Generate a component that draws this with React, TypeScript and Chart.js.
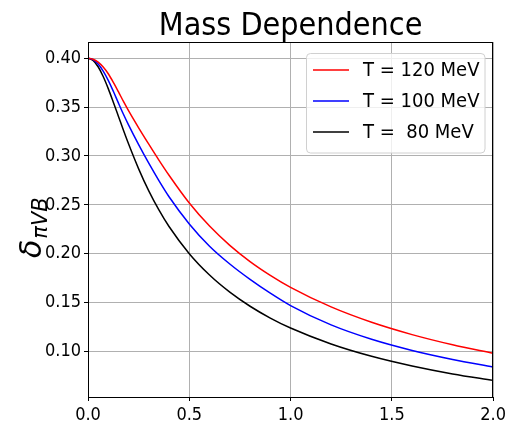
import React, { useEffect, useRef } from "react";
import { Chart, registerables } from "chart.js";

Chart.register(...registerables);

const massValues = [0, 0.025, 0.05, 0.075, 0.1, 0.125, 0.15, 0.175, 0.2, 0.25, 0.3, 0.35, 0.4, 0.5, 0.6, 0.7, 0.8, 0.9, 1.0, 1.2, 1.4, 1.6, 1.8, 2.0];
const t120Values = [0.4, 0.3989, 0.3959, 0.3909, 0.384, 0.3753, 0.3657, 0.3557, 0.3463, 0.3288, 0.3121, 0.2958, 0.2803, 0.2519, 0.2283, 0.2086, 0.192, 0.1779, 0.1656, 0.1456, 0.1299, 0.1173, 0.1069, 0.0982];
const t100Values = [0.4, 0.3984, 0.394, 0.3868, 0.3773, 0.3661, 0.3542, 0.3426, 0.3318, 0.3116, 0.2926, 0.2748, 0.2583, 0.2305, 0.2077, 0.1895, 0.1738, 0.1597, 0.147, 0.1272, 0.1125, 0.1011, 0.0919, 0.0841];
const t80Values = [0.4, 0.3977, 0.3912, 0.3812, 0.3688, 0.3549, 0.3406, 0.3262, 0.3124, 0.2868, 0.2643, 0.2448, 0.2278, 0.2, 0.1782, 0.1607, 0.1463, 0.1342, 0.124, 0.1077, 0.0951, 0.0852, 0.0771, 0.0705];
const seriesLabels = ["T = 120 MeV", "T = 100 MeV", "T =  80 MeV"];
const seriesColors = ["#ff0000", "#0000ff", "#000000"];
const xTicks = [0, 0.5, 1.0, 1.5, 2.0];
const yTicks = [0.1, 0.15, 0.2, 0.25, 0.3, 0.35, 0.4];
const titleText = "Mass Dependence";

const FONT = "'DejaVu Sans Condensed', 'DejaVu Sans', sans-serif";

const decorPlugin = {
  id: "decor",
  afterDraw(chart: any) {
    const ctx = chart.ctx;
    const a = chart.chartArea;
    ctx.save();
    // frame
    ctx.strokeStyle = "#000000";
    ctx.lineWidth = 1;
    ctx.strokeRect(Math.round(a.left) + 0.5, Math.round(a.top) + 0.5, Math.round(a.right - a.left) - 1, Math.round(a.bottom - a.top));
    // title
    ctx.fillStyle = "#000";
    ctx.font = `32px ${FONT}`;
    ctx.textAlign = "center";
    ctx.textBaseline = "alphabetic";
    ctx.fillText(titleText, (a.left + a.right) / 2, 35);
    // y label
    ctx.save();
    ctx.translate(41, 258);
    ctx.rotate(-Math.PI / 2);
    ctx.textAlign = "left";
    ctx.font = `italic 30px 'DejaVu Sans', sans-serif`;
    ctx.fillText("δ", 0, 0);
    const w = ctx.measureText("δ").width;
    ctx.font = `italic 21px 'DejaVu Sans', sans-serif`;
    ctx.fillText("πVB", w + 1, 6);
    ctx.restore();
    // legend
    const lx = 306.5, ly = 53.5, lw = 178.5, lh = 99.5;
    ctx.beginPath();
    if (ctx.roundRect) ctx.roundRect(lx, ly, lw, lh, 4);
    else ctx.rect(lx, ly, lw, lh);
    ctx.fillStyle = "rgba(255,255,255,0.8)";
    ctx.fill();
    ctx.strokeStyle = "#d0d0d0";
    ctx.lineWidth = 1;
    ctx.stroke();
    const rows = [70, 101, 132];
    chart.data.datasets.forEach((ds: any, i: number) => {
      const y = rows[i];
      ctx.strokeStyle = ds.borderColor;
      ctx.lineWidth = 1.5;
      ctx.beginPath();
      ctx.moveTo(313, y);
      ctx.lineTo(349, y);
      ctx.stroke();
      ctx.fillStyle = "#000";
      ctx.font = `20px ${FONT}`;
      ctx.textAlign = "left";
      ctx.textBaseline = "middle";
      ctx.fillText(ds.label, 363, y + 1);
    });
    ctx.restore();
  },
};

export default function App() {
  const ref = useRef<HTMLCanvasElement>(null);
  useEffect(() => {
    document.body.style.margin = "0";
    const datasets = [t120Values, t100Values, t80Values].map((vals, i) => ({
      label: seriesLabels[i],
      data: massValues.map((m, j) => ({ x: m, y: vals[j] })),
      borderColor: seriesColors[i],
      backgroundColor: seriesColors[i],
      borderWidth: 1.5,
      pointRadius: 0,
      cubicInterpolationMode: "monotone" as const,
      fill: false,
    }));
    const tickFont = { family: FONT, size: 18 };
    const chart = new Chart(ref.current!, {
      type: "line",
      data: { datasets },
      options: {
        animation: false,
        responsive: false,
        devicePixelRatio: 1,
        layout: { padding: { left: 0, right: 16, top: 42, bottom: 0 } },
        plugins: { legend: { display: false }, title: { display: false }, tooltip: { enabled: false } },
        scales: {
          x: {
            type: "linear",
            min: 0,
            max: 2,
            afterBuildTicks: (s: any) => { s.ticks = xTicks.map((v) => ({ value: v })); },
            afterFit: (s: any) => { s.height = 34; },
            ticks: { font: tickFont, color: "#000", autoSkip: false, maxRotation: 0, padding: 4, callback: (v: any) => Number(v).toFixed(1) },
            grid: { color: "#b0b0b0", lineWidth: 1, tickColor: "#000", tickLength: 4 },
            border: { display: true, color: "#000", width: 1 },
          },
          y: {
            type: "linear",
            min: 0.0535,
            max: 0.4165,
            afterBuildTicks: (s: any) => { s.ticks = yTicks.map((v) => ({ value: v })); },
            afterFit: (s: any) => { s.width = 88; },
            ticks: { font: tickFont, color: "#000", autoSkip: false, padding: 3, callback: (v: any) => Number(v).toFixed(2) },
            grid: { color: "#b0b0b0", lineWidth: 1, tickColor: "#000", tickLength: 4 },
            border: { display: true, color: "#000", width: 1 },
          },
        },
      },
      plugins: [decorPlugin],
    });
    return () => chart.destroy();
  }, []);
  return (
    <div style={{ width: 510, height: 431 }}>
      <canvas ref={ref} width={510} height={431} />
    </div>
  );
}
